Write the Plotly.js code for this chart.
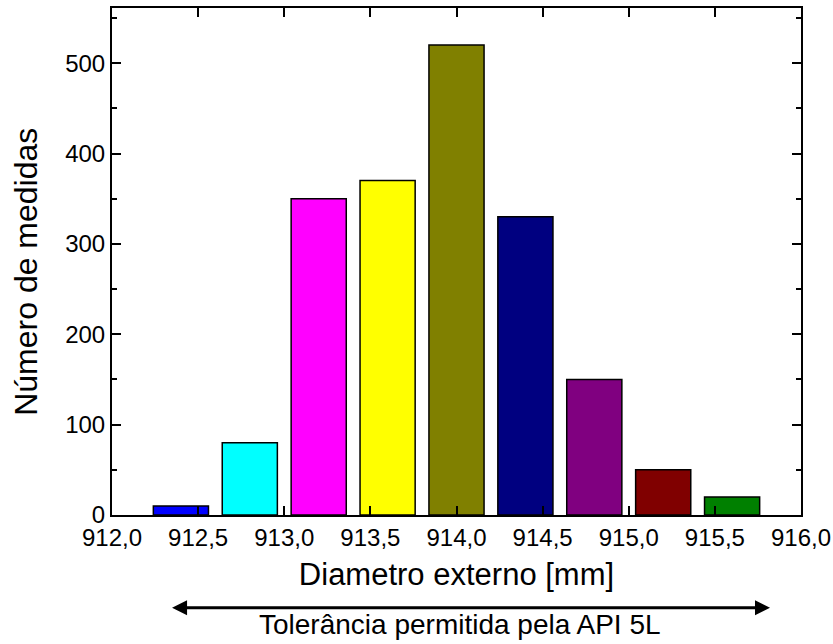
<!DOCTYPE html>
<html>
<head>
<meta charset="utf-8">
<script src="https://cdn.plot.ly/plotly-3.0.1.min.js"></script>
<style>html,body{margin:0;padding:0;background:#fff;}#chart{width:833px;height:644px;}</style>
</head>
<body>
<div id="chart"></div>
<script>
const diametros = [912.4, 912.8, 913.2, 913.6, 914.0, 914.4, 914.8, 915.2, 915.6];
const medidas = [10, 80, 350, 370, 520, 330, 150, 50, 20];
const cores = ['#0000FF', '#00FFFF', '#FF00FF', '#FFFF00', '#808000', '#000080', '#800080', '#800000', '#008000'];
const xTitulo = 'Diametro externo [mm]';
const yTitulo = 'Número de medidas';
const toleranciaTexto = 'Tolerância permitida pela API 5L';
const toleranciaLimites = [912.34, 915.82];

const font = 'Liberation Sans, Arial, sans-serif';

const trace = {
  type: 'bar',
  x: diametros,
  y: medidas,
  width: 0.32,
  marker: {color: cores, line: {color: '#000', width: 1.5}},
  hoverinfo: 'x+y'
};

const layout = {
  width: 833, height: 644,
  margin: {l: 112, r: 32, t: 8, b: 129},
  paper_bgcolor: '#fff', plot_bgcolor: '#fff',
  separators: ', ',
  showlegend: false,
  font: {family: font, color: '#000'},
  xaxis: {
    range: [912, 916], dtick: 0.5, tick0: 912, tickformat: '.1f',
    ticks: 'inside', ticklen: 9, tickwidth: 2, tickcolor: '#000',
    showline: true, linecolor: '#000', linewidth: 2, mirror: 'ticks',
    showgrid: false, zeroline: false,
    tickfont: {size: 24, family: font},
    title: {text: xTitulo, font: {size: 31, family: font}, standoff: 14}
  },
  yaxis: {
    range: [0, 561], dtick: 100, tick0: 0,
    ticks: 'inside', ticklen: 9, tickwidth: 2, tickcolor: '#000',
    minor: {dtick: 50, ticks: 'inside', ticklen: 5, tickwidth: 2, tickcolor: '#000'},
    showline: true, linecolor: '#000', linewidth: 2, mirror: 'ticks',
    showgrid: false, zeroline: false,
    tickfont: {size: 24, family: font}
  },
  annotations: [
    {
      x: -0.126, xref: 'paper', y: 0.48, yref: 'paper',
      xanchor: 'center', yanchor: 'middle', textangle: -90,
      text: yTitulo, showarrow: false,
      font: {size: 32, family: font, color: '#000'}
    },
    {
      x: toleranciaLimites[1], xref: 'x', y: -0.183, yref: 'paper',
      ax: toleranciaLimites[0], axref: 'x', ay: 0, ayref: 'pixel',
      showarrow: true, arrowside: 'end+start', arrowhead: 2, arrowsize: 1, arrowwidth: 3,
      arrowcolor: '#000', text: ''
    },
    {
      x: 0.505, xref: 'paper', y: -0.216, yref: 'paper', yanchor: 'middle',
      text: toleranciaTexto, showarrow: false,
      font: {size: 28, family: font, color: '#000'}
    }
  ]
};

Plotly.newPlot('chart', [trace], layout, {displayModeBar: false, staticPlot: true});
</script>
</body>
</html>
